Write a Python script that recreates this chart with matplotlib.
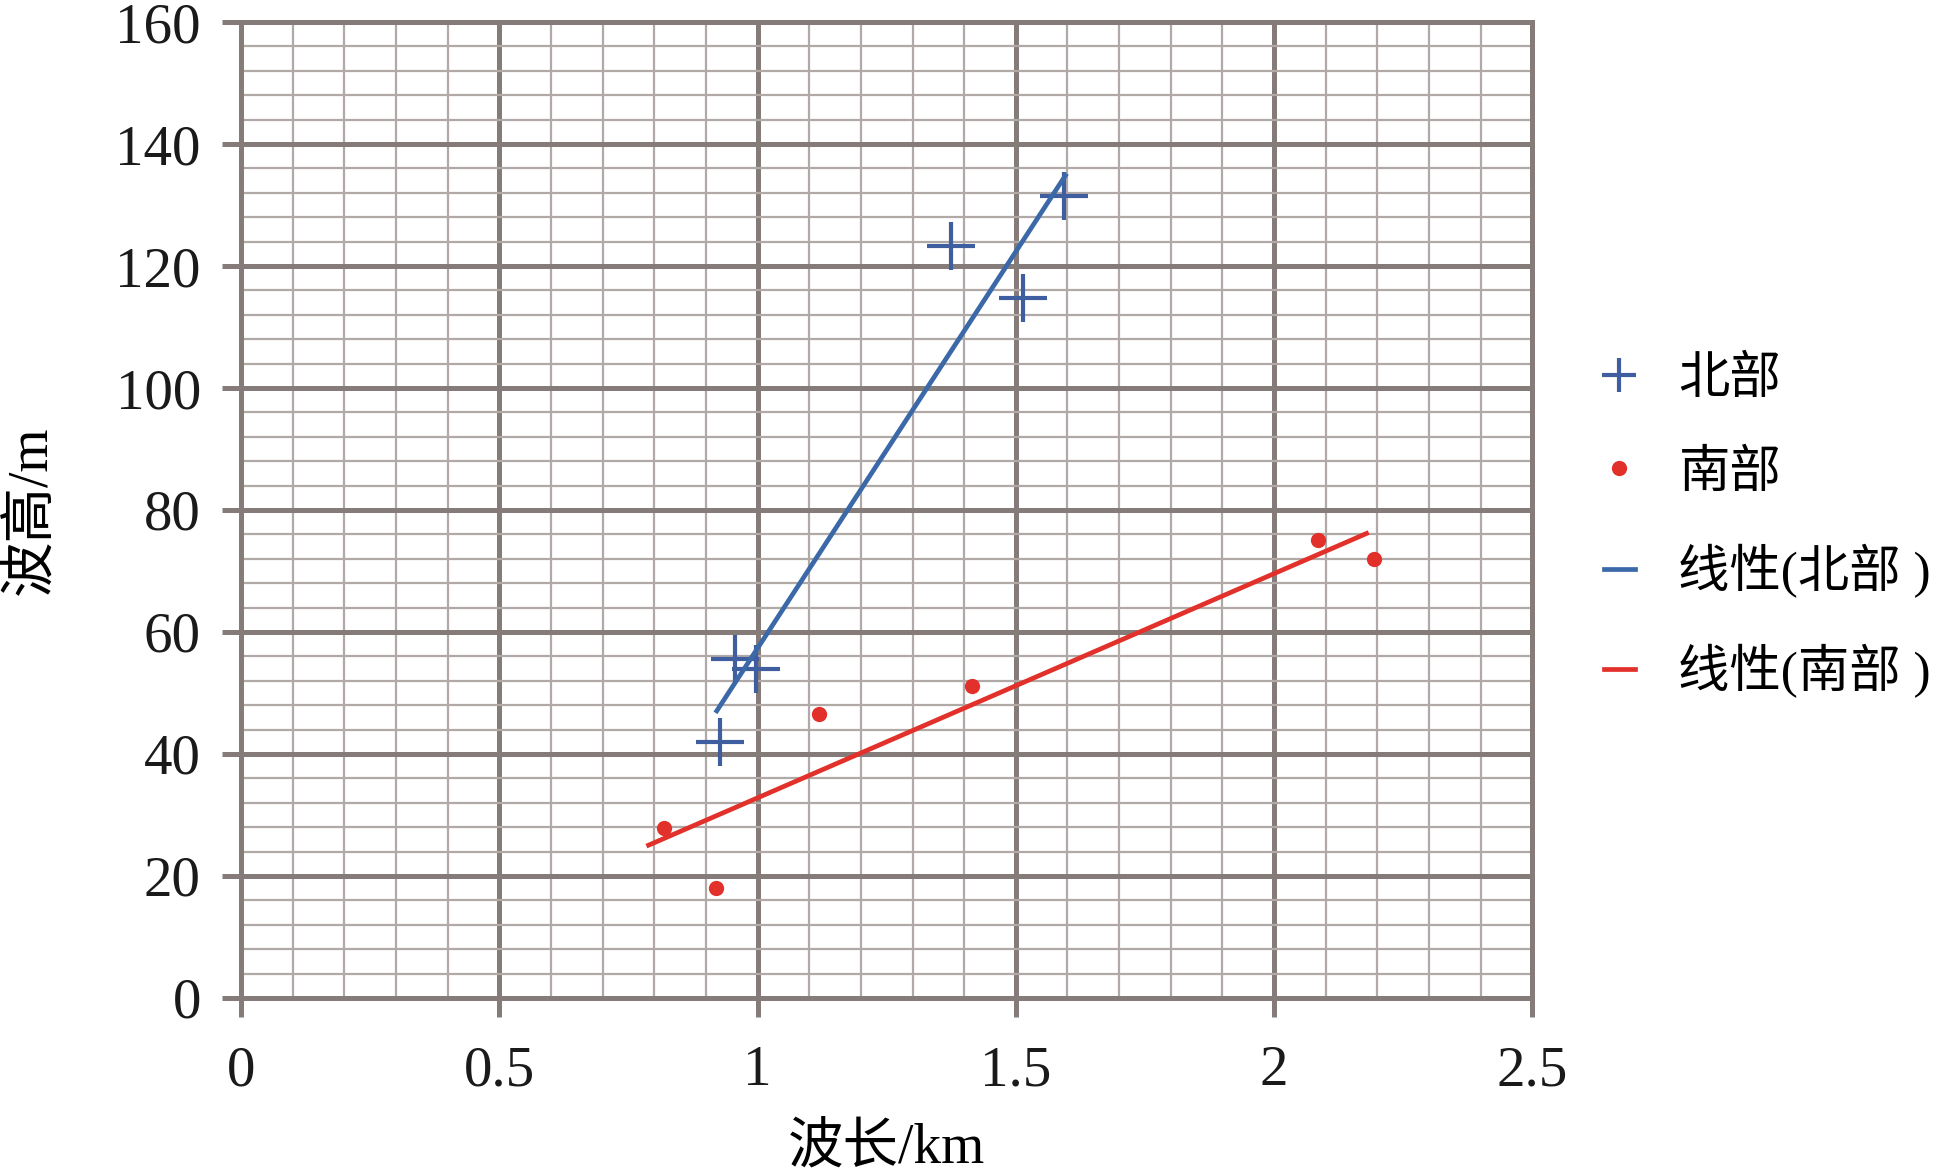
import numpy as np
import matplotlib.pyplot as plt
from matplotlib.lines import Line2D
from matplotlib.ticker import MultipleLocator, FuncFormatter

plt.rcParams['font.family'] = ['Liberation Serif', 'Noto Sans CJK SC', 'DejaVu Sans']

# data
north_x = [0.927, 0.956, 0.996, 1.374, 1.514, 1.594]
north_y = [42.0, 55.6, 54.0, 123.2, 114.8, 131.4]
south_x = [0.819, 0.920, 1.119, 1.416, 2.085, 2.194]
south_y = [27.8, 18.1, 46.6, 51.1, 75.1, 72.0]
north_fit_range = [0.921, 1.596]
south_fit_range = [0.789, 2.179]

labels = ['北部', '南部', '线性(北部 )', '线性(南部 )']
x_label = '波长/km'
y_label = '波高/m'

major_col = '#857c79'
minor_col = '#b1a9a6'
blue_mk = '#3f5e9f'
blue_ln = '#3b69a8'
red = '#e2312b'

fig = plt.figure(figsize=(19.52, 11.72), dpi=100)
ax = fig.add_axes([0.1235, 0.1485, 0.6615, 0.8327])

ax.set_xlim(0, 2.5)
ax.set_ylim(0, 160)
ax.xaxis.set_major_locator(MultipleLocator(0.5))
ax.xaxis.set_minor_locator(MultipleLocator(0.1))
ax.yaxis.set_major_locator(MultipleLocator(20))
ax.yaxis.set_minor_locator(MultipleLocator(4))
ax.xaxis.set_major_formatter(FuncFormatter(lambda v, p: '%g' % v))

ax.grid(which='minor', color=minor_col, lw=1.6, zorder=0)
ax.grid(which='major', color=major_col, lw=3.6, zorder=0.5)
ax.set_axisbelow(True)
for s in ax.spines.values():
    s.set_color(major_col)
    s.set_linewidth(3.6)

ax.tick_params(which='major', length=14, width=3.6, color=major_col,
               labelsize=41, labelcolor='#1a1a1a')
ax.tick_params(axis='x', which='major', pad=20)
ax.tick_params(axis='y', which='major', pad=15)
ax.tick_params(which='minor', length=0)

ax.plot(north_x, north_y, ls='none', marker='+', ms=34, mew=3.0,
        color=blue_mk, zorder=3)
ax.plot(south_x, south_y, ls='none', marker='o', ms=11, mew=0,
        color=red, zorder=3)

for xs, ys, rng, c in [(north_x, north_y, north_fit_range, blue_ln),
                       (south_x, south_y, south_fit_range, red)]:
    k, b = np.polyfit(xs, ys, 1)
    xx = np.array(rng)
    ax.plot(xx, k * xx + b, color=c, lw=3.4, zorder=4)

ax.set_xlabel(x_label, fontsize=40, labelpad=18)
ax.set_ylabel(y_label, fontsize=40, labelpad=42)

handles = [
    Line2D([], [], ls='none', marker='+', ms=24, mew=3.0, color=blue_mk),
    Line2D([], [], ls='none', marker='o', ms=11, mew=0, color=red),
    Line2D([], [], color=blue_ln, lw=3.4),
    Line2D([], [], color=red, lw=3.4),
]
fig.legend(handles, labels, loc='center left', bbox_to_anchor=(0.798, 0.550),
           frameon=False, fontsize=37, handlelength=0.6, handletextpad=0.85,
           labelspacing=0.9)

fig.savefig('out.png', dpi=100)
